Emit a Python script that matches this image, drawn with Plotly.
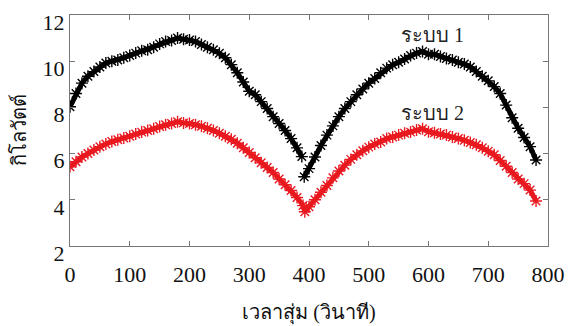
import plotly.graph_objects as go

# Series 1 (black) - first run and second run
s1a_x = [0, 10, 20, 30, 40, 50, 60, 70, 80, 90, 100, 110, 120, 130, 140, 150, 160, 170, 180, 190,
         200, 210, 220, 230, 240, 250, 260, 270, 280, 290, 300, 310, 320, 330, 340, 350, 360, 370, 380, 388]
s1a_y = [8.03, 8.6, 9.05, 9.35, 9.55, 9.75, 9.92, 10.0, 10.05, 10.15, 10.25, 10.35, 10.45, 10.5, 10.6,
         10.75, 10.85, 10.9, 11.0, 10.95, 10.92, 10.85, 10.72, 10.6, 10.5, 10.34, 10.15, 9.85, 9.5, 9.1,
         8.7, 8.55, 8.25, 7.95, 7.6, 7.3, 7.0, 6.65, 6.25, 5.87]
s1b_x = [392, 400, 410, 420, 430, 440, 450, 460, 470, 480, 490, 500, 510, 520, 530, 540, 550, 560, 570,
         580, 590, 600, 610, 620, 630, 640, 650, 660, 670, 680, 690, 700, 710, 720, 730, 740, 750, 760, 770, 780]
s1b_y = [5.0, 5.35, 5.85, 6.35, 6.8, 7.2, 7.6, 7.95, 8.25, 8.55, 8.8, 9.05, 9.25, 9.5, 9.7, 9.85, 9.95,
         10.1, 10.25, 10.35, 10.42, 10.3, 10.3, 10.2, 10.12, 10.05, 9.95, 9.88, 9.75, 9.55, 9.35, 9.15,
         8.9, 8.6, 8.1, 7.55, 7.1, 6.7, 6.3, 5.72]

# Series 2 (red)
s2_x = [0, 10, 20, 30, 40, 50, 60, 70, 80, 90, 100, 110, 120, 130, 140, 150, 160, 170, 180, 190,
        200, 210, 220, 230, 240, 250, 260, 270, 280, 290, 300, 310, 320, 330, 340, 350, 360, 370, 380, 390,
        393, 400, 410, 420, 430, 440, 450, 460, 470, 480, 490, 500, 510, 520, 530, 540, 550, 560, 570,
        580, 590, 600, 610, 620, 630, 640, 650, 660, 670, 680, 690, 700, 710, 720, 730, 740, 750, 760, 770, 780]
s2_y = [5.43, 5.65, 5.85, 6.0, 6.16, 6.3, 6.42, 6.52, 6.6, 6.68, 6.75, 6.85, 6.93, 7.0, 7.08, 7.17, 7.25,
        7.3, 7.38, 7.33, 7.3, 7.25, 7.18, 7.1, 7.0, 6.88, 6.75, 6.62, 6.45, 6.25, 6.05, 5.82, 5.6, 5.4,
        5.18, 4.9, 4.65, 4.4, 4.1, 3.75,
        3.48, 3.7, 4.0, 4.33, 4.62, 4.95, 5.25, 5.5, 5.75, 5.95, 6.12, 6.28, 6.42, 6.5, 6.65, 6.72, 6.8,
        6.88, 6.93, 7.02, 7.08, 6.95, 6.9, 6.85, 6.8, 6.72, 6.65, 6.58, 6.48, 6.38, 6.25, 6.1, 5.95, 5.7,
        5.45, 5.18, 4.9, 4.7, 4.42, 3.95]

x_ticks = [0, 100, 200, 300, 400, 500, 600, 700, 800]
y_ticks = [2, 4, 6, 8, 10, 12]
labels = ["ระบบ 1", "ระบบ 2"]
label_pos = [(606, 11.13), (606, 7.76)]

FONT = "Times New Roman, Liberation Serif, DejaVu Serif, serif"

def mk(x, y, color):
    return go.Scatter(x=x, y=y, mode="lines+markers",
                      line=dict(color=color, width=5),
                      marker=dict(symbol="asterisk-open", size=10,
                                  line=dict(color=color, width=1.4)),
                      showlegend=False, hoverinfo="skip")

fig = go.Figure()
fig.add_trace(mk(s1a_x, s1a_y, "black"))
fig.add_trace(mk(s1b_x, s1b_y, "black"))
fig.add_trace(mk(s2_x, s2_y, "#e8191f"))

for t, (ax, ay) in zip(labels, label_pos):
    fig.add_annotation(x=ax, y=ay, text=t, showarrow=False,
                       font=dict(family=FONT, size=20, color="#222"))

axis_common = dict(showgrid=False, zeroline=False, showline=True, linecolor="#777777",
                   linewidth=1, mirror="ticks", ticks="inside", ticklen=5, automargin=False,
                   ticklabeloverflow="allow",
                   tickcolor="#777777", tickfont=dict(family=FONT, size=22, color="#111"))

fig.update_xaxes(range=[0, 800], tickvals=x_ticks, ticklabelstandoff=9,
                 title=dict(text="เวลาสุ่ม (วินาที)", font=dict(family=FONT, size=20, color="#111"),
                            standoff=18),
                 **axis_common)
fig.update_yaxes(range=[2, 12], tickvals=y_ticks, ticklabelshift=7,
                 title=dict(text="กิโลวัตต์", font=dict(family=FONT, size=20, color="#111"),
                            standoff=10),
                 **axis_common)

fig.update_layout(width=574, height=326, margin=dict(l=70, r=26, t=15, b=80),
                  plot_bgcolor="white", paper_bgcolor="white")

fig.write_html("out.html", config={"displayModeBar": False},
               post_script="document.body.style.margin='0';")
